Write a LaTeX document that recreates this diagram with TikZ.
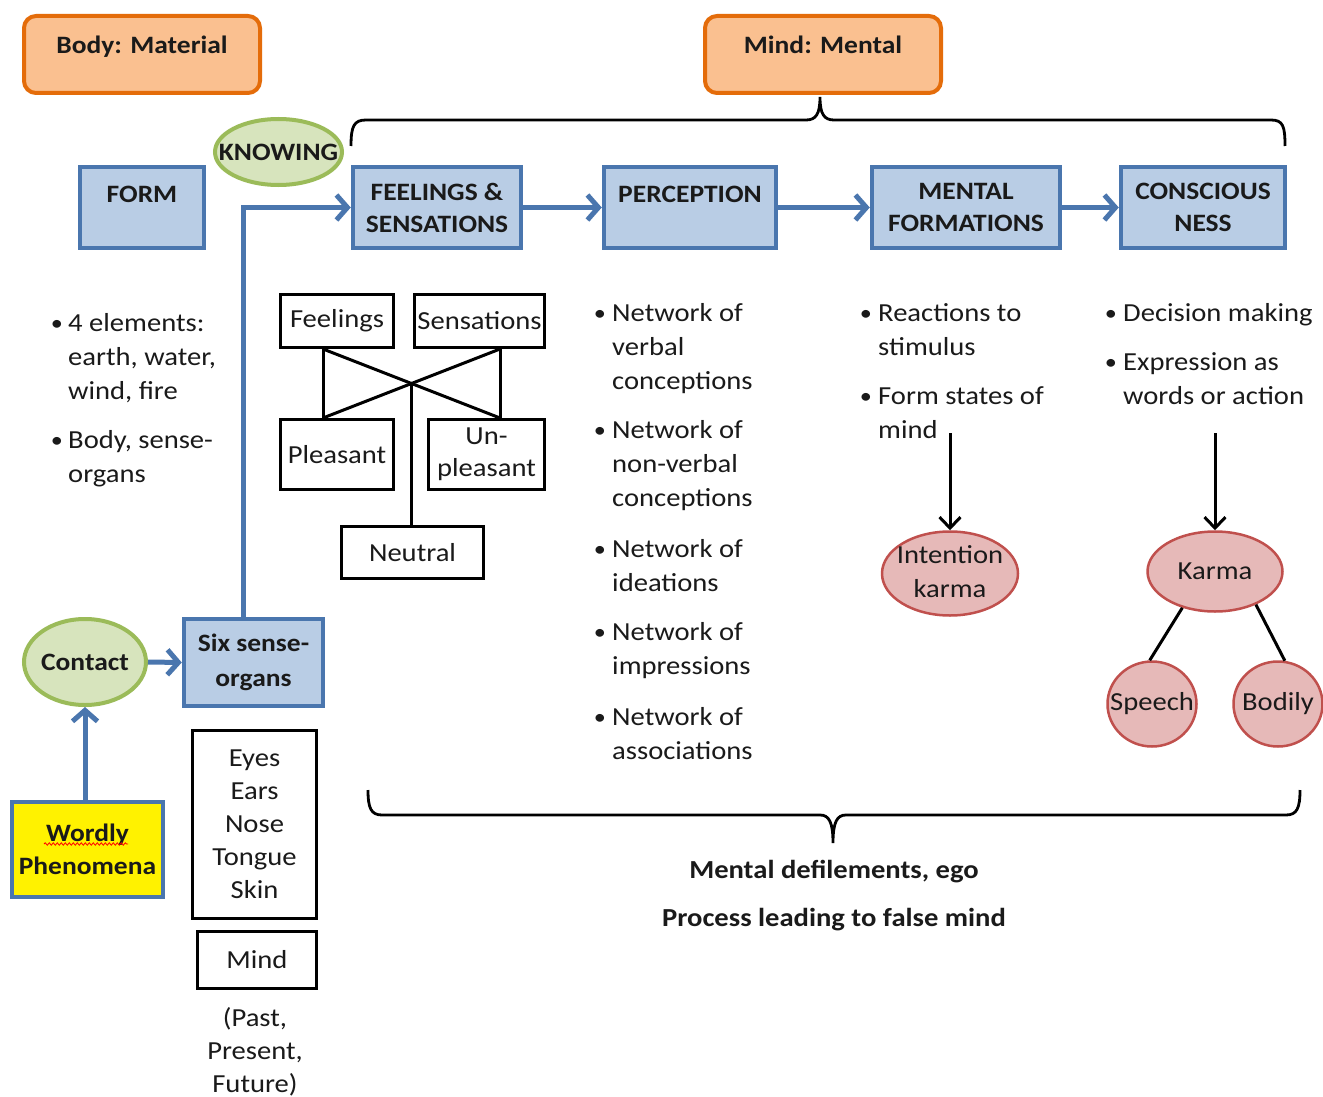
\documentclass[tikz,border=0pt]{standalone}
\usepackage{fontspec}
\setmainfont{Carlito}[FakeStretch=1.1]
\usetikzlibrary{arrows.meta,shapes.geometric,decorations.pathmorphing}
\definecolor{orFill}{HTML}{FAC090}
\definecolor{orLine}{HTML}{E46C0A}
\definecolor{blFill}{HTML}{B9CDE5}
\definecolor{blLine}{HTML}{4A76AE}
\definecolor{grFill}{HTML}{D7E4BD}
\definecolor{grLine}{HTML}{9BBB59}
\definecolor{pkFill}{HTML}{E6B9B8}
\definecolor{pkLine}{HTML}{C0504D}
\definecolor{txtc}{HTML}{1A1A1A}
\newcommand{\bodyf}{\fontsize{26}{34}\selectfont}
\newcommand{\eyef}{\fontsize{26}{33}\selectfont}
\newcommand{\boldf}{\fontsize{25}{32}\selectfont\bfseries}
\begin{document}
\begin{tikzpicture}[x=1pt,y=-1pt,
  every node/.style={text=txtc},
  header/.style={draw=orLine, fill=orFill, line width=4pt, rounded corners=12pt,
    minimum width=236pt, minimum height=77pt, font=\boldf, text height=18pt, text depth=20pt, inner sep=0pt},
  titlebox/.style={draw=blLine, fill=blFill, line width=4.5pt, minimum height=81pt,
    font=\boldf, align=center, inner sep=0pt},
  toptext/.style={text height=18pt, text depth=29pt},
  bbox/.style={draw=black, line width=3pt, font=\bodyf, align=center, inner sep=0pt},
  greenell/.style={ellipse, draw=grLine, fill=grFill, line width=4pt, inner sep=0pt, font=\boldf},
  pinkell/.style={ellipse, draw=pkLine, fill=pkFill, line width=2.5pt, inner sep=0pt, font=\bodyf},
  lst/.style={anchor=north west, align=left, inner sep=0pt, font=\bodyf},
  bull/.style={inner sep=0pt, font=\fontsize{22}{24}\selectfont},
  blarrow/.style={draw=blLine, line width=5pt, -{Straight Barb[length=11pt,width=25pt]}},
  blkarrow/.style={draw=black, line width=3pt, -{Straight Barb[length=11pt,width=21pt]}},
  bline/.style={draw=black, line width=3pt},
  brace/.style={draw=black, line width=2.8pt}
]
\useasboundingbox[fill=white] (0,0) rectangle (1323,1097);

% headers
\node[header] (body) at (142,54.5) {Body: Material};
\node[header] (mind) at (823,54.5) {Mind: Mental};

% top brace
\draw[brace] (351,146) .. controls (351,126) and (354,120) .. (366,120) -- (806,120)
  .. controls (816,120) and (820,114) .. (820,97)
  .. controls (820,114) and (824,120) .. (834,120) -- (1271,120)
  .. controls (1283,120) and (1285,126) .. (1285,146);

% title boxes
\node[titlebox, toptext, minimum width=124pt] (form) at (142,207.5) {FORM};
\node[titlebox, minimum width=168pt] (feel) at (437,207.5) {FEELINGS \&\\SENSATIONS};
\node[titlebox, toptext, minimum width=172pt] (perc) at (690,207.5) {PERCEPTION};
\node[titlebox, minimum width=188pt] (ment) at (966,207.5) {MENTAL\\FORMATIONS};
\node[titlebox, minimum width=164pt] (cons) at (1203,207.5) {CONSCIOUS\\NESS};

\draw[blarrow] (feel.east) -- (perc.west);
\draw[blarrow] (perc.east) -- (ment.west);
\draw[blarrow] (ment.east) -- (cons.west);

% knowing
\node[greenell, minimum width=127pt, minimum height=66pt] (know) at (278.5,152) {\makebox[0pt]{KNOWING}};

% form list
\node[bull] (bf1) at (57,325) {\textbullet};
\node[lst] (tf1) at (68,307) {\strut 4 elements:\\earth, water,\\wind, fire};
\node[bull] (bf2) at (57,442) {\textbullet};
\node[lst] (tf2) at (68,424) {\strut Body, sense-\\organs};

% feelings sub-diagram
\node[bbox, minimum width=113pt, minimum height=53pt] (feelb) at (337,321) {Feelings};
\node[bbox, minimum width=130pt, minimum height=53pt] (sensb) at (479.5,321) {Sensations};
\node[bbox, minimum width=113pt, minimum height=70pt] (pleas) at (337,454.5) {Pleasant};
\node[bbox, minimum width=116pt, minimum height=70pt, font=\fontsize{26}{32}\selectfont] (unpl) at (486.5,454.5) {Un-\\pleasant};
\node[bbox, minimum width=142pt, minimum height=52pt] (neut) at (412.5,552.5) {Neutral};
\coordinate (fA) at ([xshift=-14pt]feelb.south);
\coordinate (sB) at ([xshift=20.5pt]sensb.south);
\coordinate (pC) at ([xshift=-14pt]pleas.north);
\coordinate (uD) at ([xshift=13.5pt]unpl.north);
\draw[bline] (fA) -- (pC);
\draw[bline] (sB) -- (uD);
\draw[bline] (fA) -- (uD);
\draw[bline] (sB) -- (pC);
\coordinate (cx) at (intersection of fA--uD and sB--pC);
\draw[bline] (cx) -- (cx |- neut.north);

% perception list
\node[bull] (bp1) at (600,315) {\textbullet};
\node[lst] (tp1) at (612,297) {\strut Network of\\verbal\\conceptions};
\node[bull] (bp2) at (600,432) {\textbullet};
\node[lst] (tp2) at (612,414) {\strut Network of\\non-verbal\\conceptions};
\node[bull] (bp3) at (600,551) {\textbullet};
\node[lst] (tp3) at (612,533) {\strut Network of\\ideations};
\node[bull] (bp4) at (600,634) {\textbullet};
\node[lst] (tp4) at (612,616) {\strut Network of\\impressions};
\node[bull] (bp5) at (600,719) {\textbullet};
\node[lst] (tp5) at (612,701) {\strut Network of\\associations};

% mental formations list
\node[bull] (bm1) at (866,315) {\textbullet};
\node[lst] (tm1) at (878,297) {\strut Reactions to\\stimulus};
\node[bull] (bm2) at (866,398) {\textbullet};
\node[lst] (tm2) at (878,380) {\strut Form states of\\mind};

% consciousness list
\node[bull] (bc1) at (1111,315) {\textbullet};
\node[lst] (tc1) at (1123,297) {\strut Decision making};
\node[bull] (bc2) at (1111,364) {\textbullet};
\node[lst] (tc2) at (1123,346) {\strut Expression as\\words or action};

% karma
\node[pinkell, minimum width=136pt, minimum height=84pt] (intent) at (950,573.5)
  {\smash{\makebox[0pt]{\raisebox{-6pt}{\begin{tabular}{@{}c@{}}Intention\\karma\end{tabular}}}}};
\node[pinkell, minimum width=135pt, minimum height=80pt] (karma) at (1215,571.5) {\makebox[0pt]{Karma}};
\node[pinkell, minimum width=89pt, minimum height=85pt] (speech) at (1152,704) {\makebox[0pt]{Speech}};
\node[pinkell, minimum width=89pt, minimum height=85pt] (bodily) at (1278,704) {\makebox[0pt]{Bodily}};
\coordinate (ia) at (950,433);
\coordinate (ka) at (1215,433);
\draw[blkarrow] (ia) -- (intent.north);
\draw[blkarrow] (ka) -- (karma.north);
\draw[bline] (karma.228) -- (speech.93);
\draw[bline] (karma.-39) -- (bodily.81);

% sense organs
\node[titlebox, minimum width=139pt, minimum height=87pt, font=\fontsize{25}{35}\selectfont\bfseries] (six) at (253.5,662.5) {Six sense-\\organs};
\node[greenell, minimum width=122pt, minimum height=86pt] (contact) at (85,662) {\makebox[0pt]{Contact}};
\node[draw=blLine, fill=yellow, line width=4.5pt, minimum width=151pt, minimum height=95pt, inner sep=0pt,
  align=center, font=\fontsize{25}{33}\selectfont\bfseries] (word) at (87.5,849.5) {Wordly\\Phenomena};
\draw[red, line width=0.8pt, decorate, decoration={snake, amplitude=1.2pt, segment length=4pt}] (44,844) -- (128,844);

\draw[blarrow] (word.north -| contact.south) -- (contact.south);
\draw[blarrow] (contact.east) -- (six.west);
\draw[blarrow] ([xshift=-10.5pt]six.north) |- (feel.west);

\node[bbox, minimum width=124pt, minimum height=188pt, font=\eyef] (eyes) at (254.5,824.5) {Eyes\\Ears\\Nose\\Tongue\\Skin};
\node[bbox, minimum width=119pt, minimum height=57pt] (mindb) at (257,960) {Mind};
\node[font=\eyef, align=center, inner sep=0pt] (past) at (255,1052) {(Past,\\Present,\\Future)};

% bottom brace
\draw[brace] (368,790) .. controls (368,808) and (371,815) .. (382,815) -- (820,815)
  .. controls (829,815) and (833,822) .. (833,843)
  .. controls (833,822) and (837,815) .. (846,815) -- (1286,815)
  .. controls (1297,815) and (1300,808) .. (1300,790);

\node[font=\fontsize{26}{32}\selectfont\bfseries] (defil) at (834,872) {Mental defilements, ego};
\node[font=\fontsize{26}{32}\selectfont\bfseries] (proc) at (834,920) {Process leading to false mind};
\end{tikzpicture}
\end{document}
